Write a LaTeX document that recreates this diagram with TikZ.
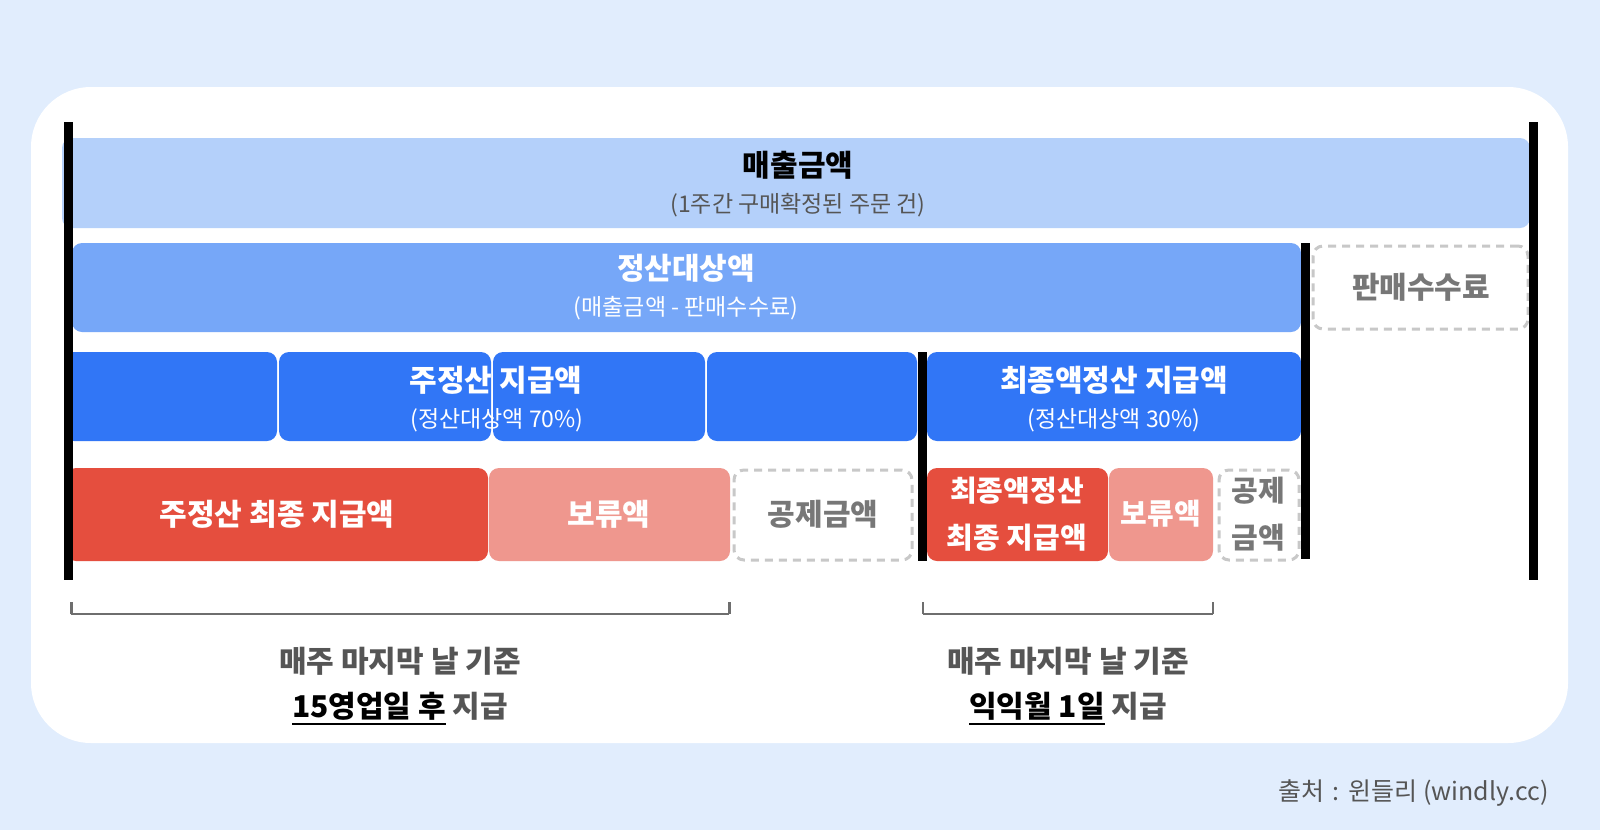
\documentclass[tikz,border=0pt]{standalone}
\usepackage{fontspec}
\setmainfont{Noto Sans CJK KR}
\usepackage{tikz}
\definecolor{bgblue}{HTML}{E1EDFD}
\definecolor{salesblue}{HTML}{B4D0FA}
\definecolor{settleblue}{HTML}{76A7F8}
\definecolor{payblue}{HTML}{3176F6}
\definecolor{payred}{HTML}{E54E3E}
\definecolor{holdpink}{HTML}{EF978E}
\definecolor{dashgray}{HTML}{C8C8C8}
\definecolor{feegray}{HTML}{777777}
\definecolor{textgray}{HTML}{555555}
\definecolor{spangray}{HTML}{6E6E6E}
\newcommand{\payul}[1]{\setbox0=\hbox{#1}\rlap{\rule[-7pt]{\wd0}{2pt}}\box0}
\tikzset{
  cell/.style={rounded corners=10pt, inner sep=0pt, outer sep=0pt, anchor=north west},
  dashcell/.style={cell, draw=dashgray, line width=3pt, dash pattern=on 8pt off 6pt},
  big/.style={font=\fontsize{30}{34}\selectfont\bfseries},
  small/.style={font=\fontsize{23}{27}\selectfont},
  bar/.style={line width=9pt},
  span/.style={draw=spangray, line width=1.5pt},
  tick/.style={draw=spangray, line width=3pt}
}

\begin{document}
\begin{tikzpicture}[x=1pt,y=-1pt]
  \useasboundingbox (0,0) rectangle (1600,830);
  \fill[bgblue] (0,0) rectangle (1600,830);
  \fill[white, rounded corners=60pt] (31,87) rectangle (1568,743);
  % sales
  \node[cell, fill=salesblue, minimum width=1468pt, minimum height=90pt] (sales) at (62,138) {};
  \node[big] (salest) at (798,165) {매출금액};
  \node[small, text=textgray] (saless) at (798,205) {(1주간 구매확정된 주문 건)};
  % settlement target
  \node[cell, fill=settleblue, minimum width=1229pt, minimum height=89pt] (settle) at (72,243) {};
  \node[big, text=white] (settlet) at (686,268) {정산대상액};
  \node[small, text=white] (settles) at (686,308) {(매출금액 - 판매수수료)};
  \node[dashcell, minimum width=215pt, minimum height=83pt] (fee) at (1313,246) {};
  \node[big, text=feegray] (feet) at (1421,287) {판매수수료};
  % weekly payout (70%)
  \foreach \x/\w [count=\i] in {64/213, 279/212, 493/212, 707/210}{
    \node[cell, fill=payblue, minimum width=\w pt, minimum height=89pt] (week\i) at (\x,352) {};
  }
  \node[big, text=white] (weekt) at (496,380) {주정산 지급액};
  \node[small, text=white] (weeks) at (497,420) {(정산대상액 70\%)};
  % final payout (30%)
  \node[cell, fill=payblue, minimum width=374pt, minimum height=89pt] (final) at (927,352) {};
  \node[big, text=white] (finalt) at (1114,380) {최종액정산 지급액};
  \node[small, text=white] (finals) at (1114,420) {(정산대상액 30\%)};
  % weekly split
  \node[cell, fill=payred, minimum width=422pt, minimum height=93pt] (wpay) at (66,468) {};
  \node[big, text=white] (wpayt) at (277,514) {주정산 최종 지급액};
  \node[cell, fill=holdpink, minimum width=241pt, minimum height=93pt] (whold) at (489,468) {};
  \node[big, text=white] (wholdt) at (609,514) {보류액};
  \node[dashcell, minimum width=178pt, minimum height=90pt] (wded) at (734,470) {};
  \node[big, text=feegray] (wdedt) at (823,514) {공제금액};
  % final split
  \node[cell, fill=payred, minimum width=181pt, minimum height=93pt] (fpay) at (927,468) {};
  \node[big, text=white, align=center, font=\fontsize{29}{47}\selectfont\bfseries] (fpayt) at (1017,514) {최종액정산\\최종 지급액};
  \node[cell, fill=holdpink, minimum width=104pt, minimum height=93pt] (fhold) at (1109,468) {};
  \node[big, text=white, font=\fontsize{29}{34}\selectfont\bfseries] (fholdt) at (1161,514) {보류액};
  \node[dashcell, minimum width=80pt, minimum height=90pt] (fded) at (1219,470) {};
  \node[big, text=feegray, align=center, font=\fontsize{29}{47}\selectfont\bfseries] (fdedt) at (1258,514) {공제\\금액};
  % black bars
  \coordinate (lt) at (68.5,122); \coordinate (lb) at (68.5,580);
  \coordinate (rt) at (1533,122); \coordinate (rb) at (1533,580);
  \coordinate (mt) at (1305,243); \coordinate (mb) at (1305,559);
  \coordinate (ft) at (922,352);  \coordinate (fb) at (922,561);
  \draw[bar] (lt) -- (lb);
  \draw[bar] (rt) -- (rb);
  \draw[bar] (mt) -- (mb);
  \draw[bar] (ft) -- (fb);
  % spans
  \coordinate (s1l) at (71,614); \coordinate (s1r) at (729,614);
  \coordinate (s2l) at (923,614); \coordinate (s2r) at (1213,614);
  \draw[span] (s1l) -- (s1r);
  \draw[span] (s2l) -- (s2r);
  \foreach \c in {s1l,s1r}{ \draw[tick] (\c) -- ++(0,-12); }
  \foreach \c in {s2l,s2r}{ \draw[line width=1.5pt, draw=spangray] (\c) -- ++(0,-12); }
  % payout dates
  \node[align=center, text=textgray, font=\fontsize{30}{45}\selectfont\bfseries] (wdate) at (400,686)
    {매주 마지막 날 기준\\\textcolor{black}{\payul{15영업일 후}} 지급};
  \node[align=center, text=textgray, font=\fontsize{30}{45}\selectfont\bfseries] (fdate) at (1068,686)
    {매주 마지막 날 기준\\\textcolor{black}{\payul{익익월 1일}} 지급};
  % source
  \node[anchor=east, text=textgray, font=\fontsize{25}{29}\selectfont] (src) at (1552,793)
    {출처\hspace{0.35em}:\hspace{0.35em}윈들리 (windly.cc)};
\end{tikzpicture}
\end{document}
